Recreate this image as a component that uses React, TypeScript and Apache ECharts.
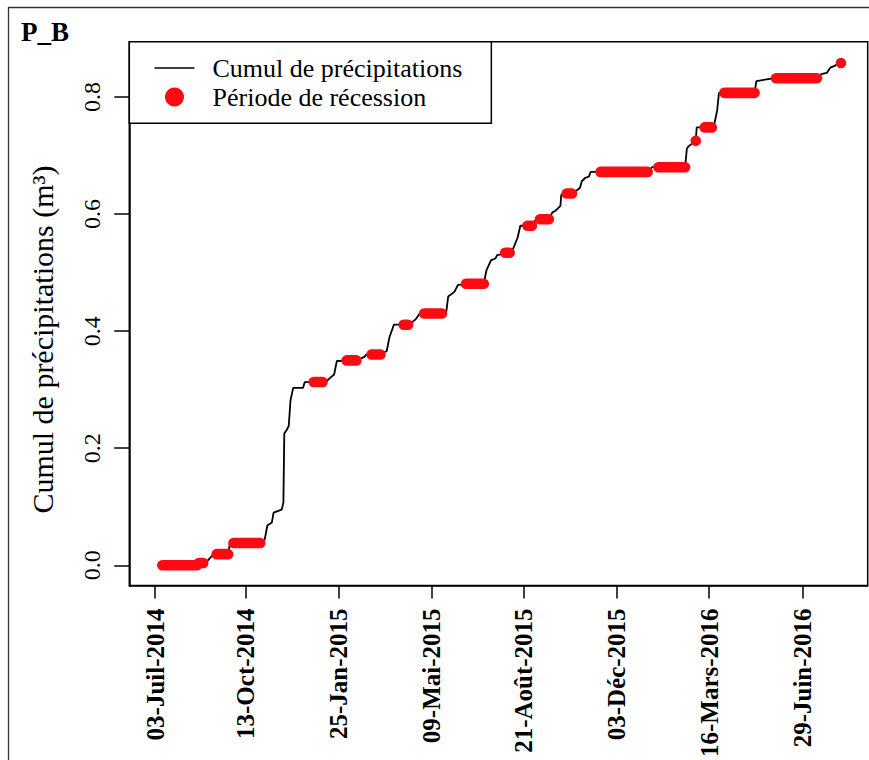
import React, { useEffect, useRef } from 'react';
import * as echarts from 'echarts';

// ---- Data ----
const cumulDates = ['2014-07-10','2014-08-19','2014-08-26','2014-08-31','2014-09-06','2014-09-23','2014-09-25','2014-10-29','2014-11-03','2014-11-06','2014-11-11','2014-11-13','2014-11-22','2014-11-24','2014-11-25','2014-11-28','2014-11-30','2014-12-02','2014-12-05','2014-12-16','2014-12-18','2015-01-07','2015-01-12','2015-01-16','2015-01-20','2015-01-23','2015-02-14','2015-02-23','2015-02-25','2015-03-13','2015-03-20','2015-03-23','2015-03-28','2015-04-13','2015-04-19','2015-04-22','2015-04-26','2015-05-21','2015-05-26','2015-05-28','2015-06-04','2015-06-08','2015-07-07','2015-07-08','2015-07-10','2015-07-15','2015-07-20','2015-07-22','2015-08-05','2015-08-09','2015-08-14','2015-08-17','2015-08-30','2015-09-02','2015-09-08','2015-09-18','2015-09-22','2015-09-25','2015-10-01','2015-10-02','2015-10-14','2015-10-20','2015-10-23','2015-10-25','2015-10-29','2015-11-02','2015-11-04','2016-01-07','2016-01-12','2016-02-18','2016-02-20','2016-02-22','2016-03-01','2016-03-02','2016-03-19','2016-03-22','2016-03-25','2016-03-27','2016-05-06','2016-05-08','2016-05-23','2016-05-30','2016-07-15','2016-07-20','2016-07-26','2016-07-30','2016-08-04','2016-08-07','2016-08-11'];
const cumulValues = [0.000,0.000,0.004,0.008,0.018,0.019,0.038,0.039,0.044,0.068,0.073,0.090,0.095,0.107,0.225,0.232,0.238,0.282,0.303,0.303,0.313,0.313,0.315,0.321,0.326,0.349,0.350,0.356,0.360,0.360,0.366,0.389,0.411,0.411,0.417,0.421,0.430,0.430,0.434,0.459,0.467,0.479,0.481,0.489,0.504,0.521,0.524,0.530,0.534,0.541,0.560,0.580,0.580,0.588,0.591,0.591,0.603,0.605,0.614,0.633,0.635,0.641,0.645,0.656,0.662,0.664,0.672,0.672,0.680,0.680,0.712,0.716,0.725,0.748,0.748,0.755,0.777,0.807,0.807,0.827,0.831,0.832,0.832,0.839,0.841,0.850,0.853,0.857,0.858];

const recStart = ['2014-07-11','2014-08-21','2014-09-10','2014-09-29','2014-12-28','2015-02-03','2015-03-03','2015-04-08','2015-05-01','2015-06-17','2015-07-31','2015-08-25','2015-09-08','2015-10-08','2015-11-15','2016-01-19','2016-03-01','2016-03-11','2016-04-02','2016-05-30','2016-08-11'];
const recEnd = ['2014-08-19','2014-08-26','2014-09-23','2014-10-29','2015-01-07','2015-02-14','2015-03-13','2015-04-13','2015-05-21','2015-07-07','2015-08-05','2015-08-30','2015-09-18','2015-10-14','2016-01-07','2016-02-18','2016-03-01','2016-03-19','2016-05-06','2016-07-15','2016-08-11'];
const recValues = [0.000,0.004,0.019,0.038,0.313,0.350,0.360,0.411,0.430,0.481,0.534,0.580,0.591,0.635,0.672,0.680,0.725,0.748,0.807,0.832,0.858];

const tickDates = ['2014-07-03','2014-10-13','2015-01-25','2015-05-09','2015-08-21','2015-12-03','2016-03-16','2016-06-29'];
const tickLabels = ['03-Juil-2014','13-Oct-2014','25-Jan-2015','09-Mai-2015','21-Août-2015','03-Déc-2015','16-Mars-2016','29-Juin-2016'];
const yTicks = [0, 0.2, 0.4, 0.6, 0.8];

const xMin = '2014-06-04';
const xMax = '2016-09-10';
const yMin = -0.0344;
const yMax = 0.8944;

const SERIES_LINE = 'Cumul de précipitations';
const SERIES_REC = 'Période de récession';
const Y_TITLE = 'Cumul de précipitations (m³)';

const FONT = 'Liberation Serif';
const RED = '#ff0a12';

const ts = (s: string) => new Date(s + 'T00:00:00Z').getTime();

export default function App() {
  const ref = useRef<HTMLDivElement>(null);

  useEffect(() => {
    if (!ref.current) return;
    const chart = echarts.init(ref.current, null, { renderer: 'svg' });
    const tickTimes = tickDates.map(ts);
    const labelFor = (v: number) => {
      let best = 0;
      for (let i = 1; i < tickTimes.length; i++) {
        if (Math.abs(tickTimes[i] - v) < Math.abs(tickTimes[best] - v)) best = i;
      }
      return tickLabels[best];
    };

    chart.setOption({
      animation: false,
      backgroundColor: '#fff',
      textStyle: { fontFamily: FONT },
      title: {
        text: 'P_B',
        left: 21,
        top: 18.5,
        padding: 0,
        textStyle: { fontFamily: FONT, fontWeight: 'bold', fontSize: 27, color: '#000' },
      },
      legend: {
        left: 129.3,
        top: 41.7,
        orient: 'vertical',
        padding: [13.3, 29, 13.3, 25.2],
        itemGap: 3,
        itemWidth: 40,
        itemHeight: 19,
        borderColor: '#000',
        borderWidth: 1.5,
        backgroundColor: '#fff',
        selectedMode: false,
        textStyle: { fontFamily: FONT, fontSize: 26, color: '#000', lineHeight: 26, padding: [0, 0, 0, 13] },
        data: [
          { name: SERIES_LINE, icon: 'path://M0,0 H40 V1.6 H0 Z', itemStyle: { color: '#000' } },
          { name: SERIES_REC, icon: 'circle' },
        ],
      },
      grid: {
        left: 129.3,
        top: 41.7,
        right: 1.3,
        bottom: 171,
        show: true,
        borderColor: '#000',
        borderWidth: 1.5,
        backgroundColor: 'transparent',
      },
      xAxis: {
        type: 'value',
        min: ts(xMin),
        max: ts(xMax),
        axisLine: { show: true, onZero: false, lineStyle: { color: '#000', width: 1.5 } },
        axisTick: { show: true, length: 13, inside: false, lineStyle: { color: '#000', width: 1.5 }, customValues: tickTimes },
        axisLabel: {
          customValues: tickTimes,
          rotate: 90,
          margin: 23,
          fontFamily: FONT,
          fontSize: 25,
          fontWeight: 'bold',
          color: '#000',
          hideOverlap: false,
          formatter: (v: number) => labelFor(v),
        },
        splitLine: { show: false },
      },
      yAxis: {
        type: 'value',
        min: yMin,
        max: yMax,
        name: Y_TITLE,
        nameLocation: 'middle',
        nameGap: 72,
        nameTextStyle: { fontFamily: FONT, fontSize: 30, color: '#000', padding: [0, 52, 0, 0] },
        axisLine: { show: true, onZero: false, lineStyle: { color: '#000', width: 1.5 } },
        axisTick: { show: true, length: 15, inside: false, lineStyle: { color: '#000', width: 1.5 }, customValues: yTicks },
        axisLabel: {
          customValues: yTicks,
          rotate: 90,
          margin: 25.6,
          fontFamily: FONT,
          fontSize: 24,
          color: '#000',
          formatter: (v: number) => v.toFixed(1),
        },
        splitLine: { show: false },
      },
      series: [
        {
          name: SERIES_LINE,
          type: 'line',
          data: cumulDates.map((d, i) => [ts(d), cumulValues[i]]),
          symbol: 'none',
          lineStyle: { color: '#000', width: 1.8 },
          itemStyle: { color: '#000' },
          z: 2,
        },
        {
          name: SERIES_REC,
          type: 'custom',
          data: recStart.map((d, i) => [ts(d), ts(recEnd[i]), recValues[i]]),
          encode: { x: [0, 1], y: 2 },
          itemStyle: { color: RED },
          z: 3,
          renderItem: (params: any, api: any) => {
            const s = api.coord([api.value(0), api.value(2)]);
            const e = api.coord([api.value(1), api.value(2)]);
            const r = 5.3;
            return {
              type: 'rect',
              shape: { x: s[0] - r, y: s[1] - r, width: e[0] - s[0] + 2 * r, height: 2 * r, r },
              style: { fill: RED },
            };
          },
        },
      ],
      graphic: [
        {
          type: 'rect',
          shape: { x: 8.5, y: 7.5, width: 900, height: 800 },
          style: { fill: 'none', stroke: '#333', lineWidth: 1.3 },
          silent: true,
          z: -1,
        },
      ],
    });

    return () => chart.dispose();
  }, []);

  return (
    <div
      ref={ref}
      style={{ position: 'absolute', left: 0, top: 0, width: 869, height: 760, background: '#fff', fontFamily: 'Liberation Serif' }}
    />
  );
}
